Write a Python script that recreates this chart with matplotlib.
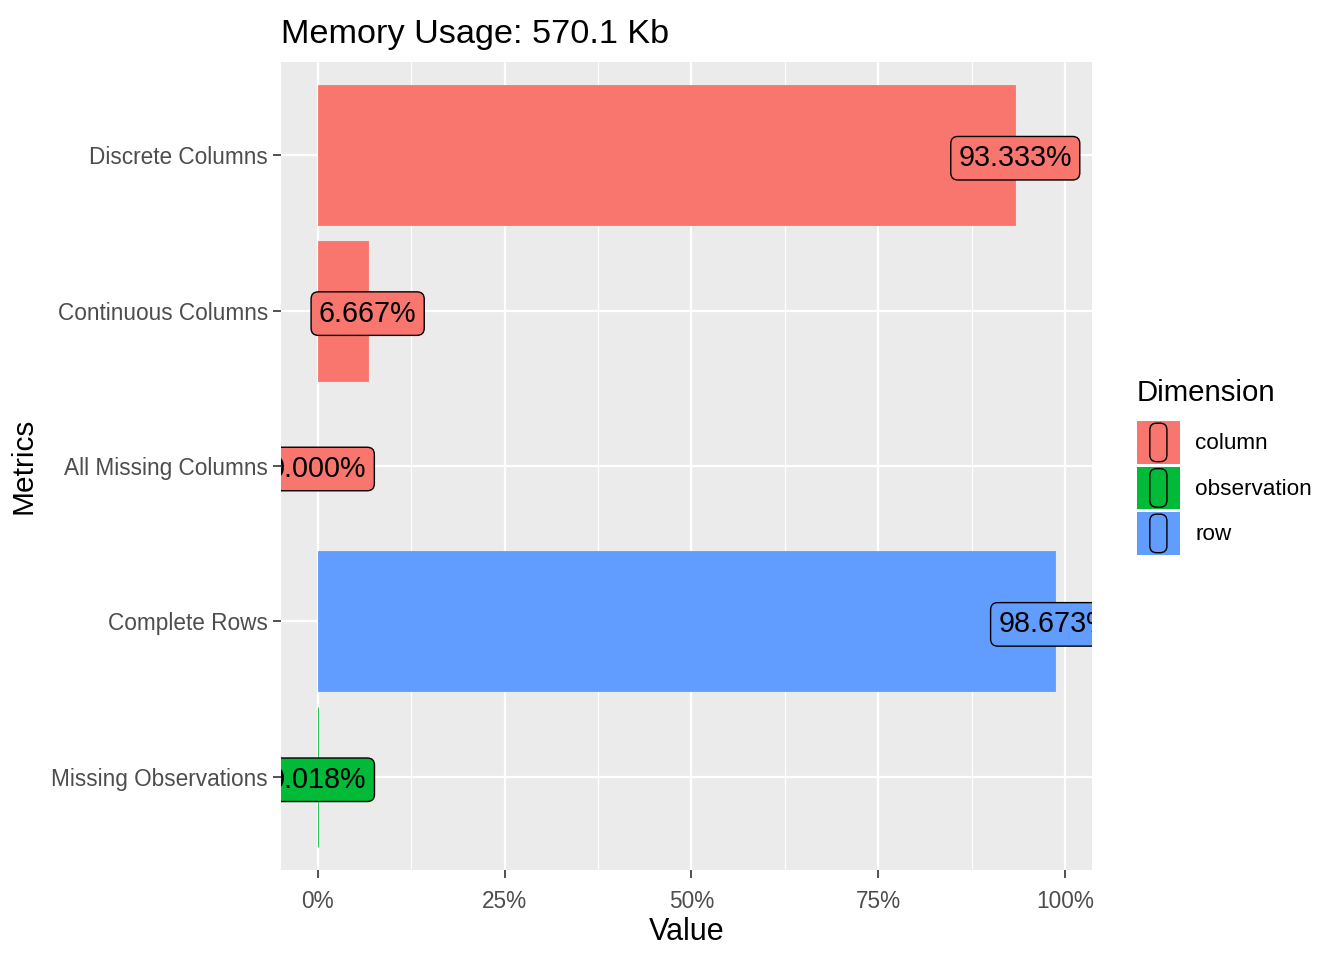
import matplotlib
matplotlib.use("Agg")
import matplotlib.pyplot as plt
from matplotlib.patches import Rectangle, FancyBboxPatch
from matplotlib.legend_handler import HandlerBase

plt.rcParams['font.family'] = ['Liberation Sans', 'DejaVu Sans']

metrics = ['Discrete Columns', 'Continuous Columns', 'All Missing Columns',
           'Complete Rows', 'Missing Observations']
values = [93.333, 6.667, 0.0, 98.673, 0.018]
dimension = ['column', 'column', 'column', 'row', 'observation']
dims = ['column', 'observation', 'row']
colors = {'column': '#F8766D', 'observation': '#00BA38', 'row': '#619CFF'}


class LabelKey(HandlerBase):
    # filled square with a rounded outline, like ggplot's label key
    def create_artists(self, legend, orig_handle, xdescent, ydescent,
                       width, height, fontsize, trans):
        c = orig_handle.get_facecolor()
        bg = Rectangle((-xdescent, -ydescent), width, height, facecolor=c,
                       edgecolor='none', transform=trans)
        w = width * 0.4
        h = height * 0.9
        box = FancyBboxPatch((-xdescent + (width - w) / 2, -ydescent + (height - h) / 2),
                             w, h, boxstyle='round,pad=0,rounding_size=%f' % (w * 0.4),
                             facecolor='none', edgecolor='black', lw=1.0,
                             transform=trans)
        return [bg, box]


fig = plt.figure(figsize=(13.44, 9.6), dpi=100)
ax = fig.add_axes([281 / 1344, 1 - 870 / 960, (1092 - 281) / 1344, (870 - 62) / 960])
ax.set_facecolor('#EBEBEB')

ypos = list(range(len(metrics)))
bar_colors = [colors[d] for d in dimension]
edge_w = [0.6 if v > 0 else 0 for v in values]
ax.barh(ypos, values, height=0.9, color=bar_colors, edgecolor=bar_colors,
        linewidth=edge_w, zorder=2)
for y, v, d in zip(ypos, values, dimension):
    ax.text(v, y, '%.3f%%' % v, ha='center', va='center_baseline', fontsize=20.7,
            zorder=3, clip_on=True,
            bbox=dict(boxstyle='round,pad=0.27,rounding_size=0.25',
                      facecolor=colors[d], edgecolor='black', lw=1.0))

ax.set_xlim(-4.93, 103.6)
ax.set_ylim(4.6, -0.6)
ax.set_xticks([0, 25, 50, 75, 100])
ax.set_xticklabels(['0%', '25%', '50%', '75%', '100%'])
ax.set_xticks([12.5, 37.5, 62.5, 87.5], minor=True)
ax.set_yticks(ypos)
ax.set_yticklabels(metrics)
ax.grid(which='major', color='white', lw=1.6, zorder=0)
ax.grid(which='minor', axis='x', color='white', lw=0.8, zorder=0)
ax.set_axisbelow(True)
for s in ax.spines.values():
    s.set_visible(False)
ax.tick_params(axis='both', which='major', length=5.5, width=1.2, color='#333333',
               labelcolor='#4D4D4D', labelsize=16.3)
ax.tick_params(axis='y', which='major', pad=4)
ax.tick_params(axis='x', which='major', pad=9)
ax.tick_params(axis='x', which='minor', length=0)

ax.set_xlabel('Value', fontsize=22, labelpad=3)
ax.set_ylabel('Metrics', fontsize=21.5, labelpad=10)
ax.set_title('Memory Usage: 570.1 Kb', loc='left', fontsize=24.7, pad=14)

# legend: title placed separately, keys below it
fig.text(1137 / 1344, 1 - 393 / 960, 'Dimension', fontsize=21.2, va='center', ha='left')
handles = [Rectangle((0, 0), 1, 1, facecolor=colors[d]) for d in dims]
leg = fig.legend(handles, dims, loc='upper left',
                 bbox_to_anchor=(1137 / 1344, 1 - 421 / 960),
                 fontsize=16.2, frameon=False, handler_map={Rectangle: LabelKey()},
                 handlelength=1.9, handleheight=2.55, labelspacing=0.12,
                 handletextpad=0.7, borderaxespad=0, borderpad=0)

fig.savefig('out.png', dpi=100)
